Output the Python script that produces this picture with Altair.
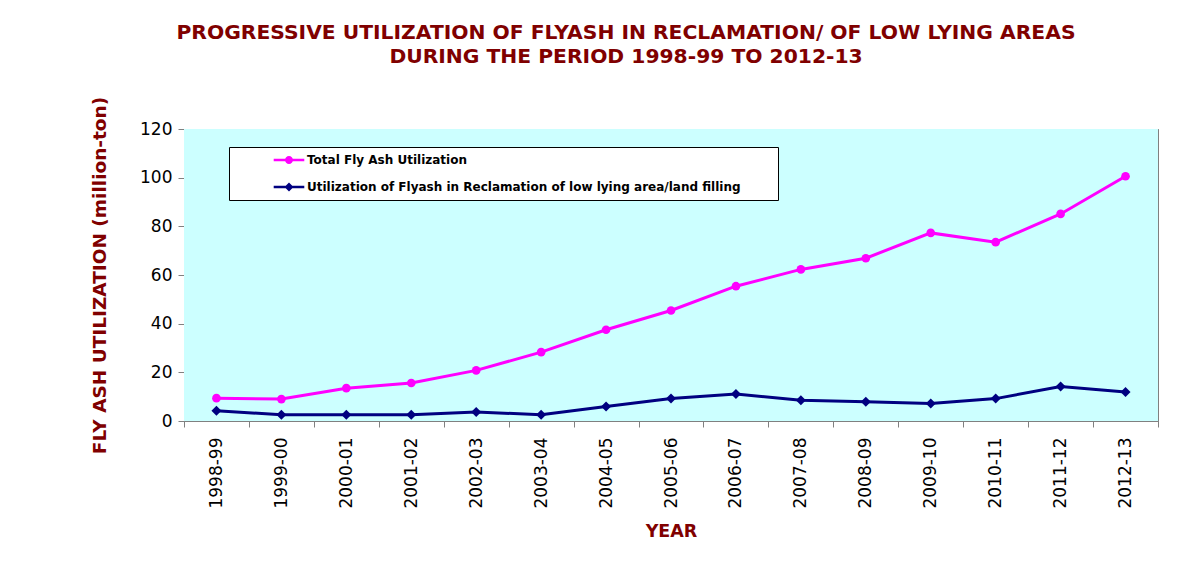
import altair as alt
import pandas as pd

years = ["1998-99", "1999-00", "2000-01", "2001-02", "2002-03", "2003-04", "2004-05",
         "2005-06", "2006-07", "2007-08", "2008-09", "2009-10", "2010-11", "2011-12", "2012-13"]
total_util = [9.4, 9.0, 13.5, 15.6, 20.8, 28.3, 37.5, 45.4, 55.4, 62.3, 66.9, 77.3, 73.5, 85.1, 100.6]
reclamation_util = [4.2, 2.6, 2.6, 2.6, 3.7, 2.6, 6.0, 9.2, 11.1, 8.5, 7.9, 7.2, 9.2, 14.2, 11.9]
series_names = ["Total Fly Ash Utilization",
                "Utilization of Flyash in Reclamation of low lying area/land filling"]
series_colors = ["#FF00FF", "#000080"]
y_ticks = [0, 20, 40, 60, 80, 100, 120]

rows = []
for yr, t, r in zip(years, total_util, reclamation_util):
    rows.append({"year": yr, "series": series_names[0], "value": t})
    rows.append({"year": yr, "series": series_names[1], "value": r})
df = pd.DataFrame(rows)

DARK_RED = "#800000"
FONT = "DejaVu Sans"

color_scale = alt.Scale(domain=series_names, range=series_colors)

x_enc = alt.X(
    "year:N", sort=years,
    scale=alt.Scale(type="band", paddingInner=0, paddingOuter=0),
    bandPosition=0.5,
    axis=alt.Axis(
        title="YEAR", titleFont=FONT, titleFontSize=17.5, titleFontWeight="bold",
        titleColor=DARK_RED, titlePadding=14,
        labelAngle=-90, labelFont=FONT, labelFontSize=17, labelColor="black",
        labelPadding=10, tickBand="extent", tickSize=6, tickColor="#808080",
        domainColor="#808080", grid=False,
    ),
)
y_enc = alt.Y(
    "value:Q",
    scale=alt.Scale(domain=[0, 120], nice=False),
    axis=alt.Axis(
        values=y_ticks, title="FLY ASH UTILIZATION (million-ton)",
        titleFont=FONT, titleFontSize=18.5, titleFontWeight="bold", titleColor=DARK_RED,
        titlePadding=30,
        labelFont=FONT, labelFontSize=17, labelColor="black", labelPadding=6,
        tickSize=6, tickColor="#808080", domainColor="#808080",
        grid=True, gridColor="#808080", gridWidth=1,
    ),
)

# plot-area background (cyan)
bg = alt.Chart(pd.DataFrame({"k": [0]})).mark_rect(color="#CCFFFF").encode(
    x=alt.value(0), x2=alt.value({"expr": "width"}),
    y=alt.value(0), y2=alt.value({"expr": "height"}),
)

base = alt.Chart(df).encode(
    x=x_enc, y=y_enc,
    color=alt.Color("series:N", scale=color_scale, legend=None),
)

lines = base.mark_line(strokeWidth=3)
pts_total = base.transform_filter(
    alt.datum.series == series_names[0]
).mark_point(filled=True, shape="circle", size=75, opacity=1)
pts_recl = base.transform_filter(
    alt.datum.series == series_names[1]
).mark_point(filled=True, shape="diamond", size=100, opacity=1)

# legend symbols: line with marker (path units: 4.5 px each at symbolSize 81)
circle_path = ("M-3.4,-0.27H3.4V0.27H-3.4Z "
               "M0.89,0A0.89,0.89 0 1,1 -0.89,0A0.89,0.89 0 1,1 0.89,0Z")
diamond_path = ("M-3.4,-0.27H3.4V0.27H-3.4Z "
                "M0,-1L1,0L0,1L-1,0Z")

legend_def = alt.Legend(
    title=None, orient="none", legendX=45, legendY=18,
    direction="vertical",
    labelFont=FONT, labelFontSize=12, labelFontWeight="bold", labelColor="black",
    labelLimit=900, labelOffset=12,
    labelExpr="datum.label + '\u2003\u2003\u2002\u200b'",
    symbolSize=81, symbolOffset=47, symbolStrokeWidth=0,
    padding=7, rowPadding=15,
    fillColor="white", strokeColor="black", cornerRadius=0,
)

legend_layer = alt.Chart(df).transform_filter("false").mark_point(
    filled=True, opacity=1
).encode(
    color=alt.Color("series:N", scale=color_scale, legend=legend_def),
    shape=alt.Shape("series:N",
                    scale=alt.Scale(domain=series_names, range=[circle_path, diamond_path]),
                    legend=legend_def),
)

chart = alt.layer(bg, lines, pts_total, pts_recl, legend_layer).resolve_legend(
    color="independent", shape="independent"
).properties(
    width=974, height=292,
    background="white",
    title=alt.TitleParams(
        text=["PROGRESSIVE UTILIZATION OF FLYASH IN RECLAMATION/ OF LOW LYING AREAS",
              "DURING THE PERIOD 1998-99 TO 2012-13"],
        font=FONT, fontSize=20.3, fontWeight="bold", color=DARK_RED,
        anchor="middle", dx=-45, offset=29, lineHeight=24,
    ),
    autosize=alt.AutoSizeParams(type="none"),
    padding={"left": 176, "top": 121, "right": 30, "bottom": 146},
).configure_view(
    fill="#CCFFFF", stroke="#808080", strokeWidth=1
)

chart.save("out.html", embed_options={"renderer": "svg", "actions": False})
